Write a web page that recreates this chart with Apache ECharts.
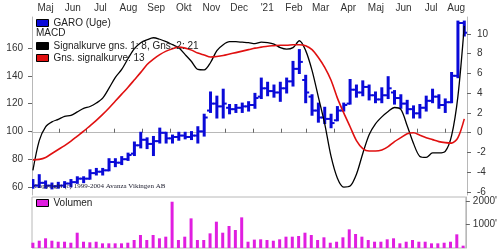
<!DOCTYPE html>
<html><head><meta charset="utf-8">
<script src="https://cdn.jsdelivr.net/npm/echarts@6/dist/echarts.min.js"></script>
<style>html,body{margin:0;padding:0;background:#fff}#c{width:500px;height:251px}</style>
</head><body><div id="c"></div>
<script>
// ---- data (weekly, first week 2020-05-03) ----
const firstWeek = '2020-05-03';
const monthLabels = ["Maj","Jun","Jul","Aug","Sep","Okt","Nov","Dec","'21","Feb","Mar","Apr","Maj","Jun","Jul","Aug"];
const priceOpen  = [63,61,63,61,60.5,61,62.5,63.5,66,66,70,71,72,78,77.5,80,84,90,94,91,93,99,95,96,97,96,97,100,115,120,118,117,116,117,118,119,125,131,129,128,131,136,145,137,125,115,110,109,108,115,120,130,128,132,126,123,126,128,124,120,116,113,117,122,125,119,121,140,178];
const priceClose = [61,63,61,60.5,61,62.5,63.5,66,66,70,71,72,78,77.5,80,83,90,94,91,93,99,95,96,97,96,97,100,110,120,118,120,116,117,118,119,124,131,129,128,131,136,145,150,128,115,110,109,106,115,119,130,128,132,126,123,126,131,124,120,116,113,117,122,125,119,121,140,178,171];
const priceLow   = [59.5,60,59.5,59,59.5,60,60.5,63,63.5,66,69,69,72,75,76.5,79.5,83,88.5,88,83,92,92,92,94,95,94.5,92,97,114,110,110,113,114,114,115,117,124,126,125,122,128,133,142,121,112,107,106,103,108,115,120,125,126,123,121,121,124,120,117,113,110,110,115,121,117,114,121,139,169];
const priceHigh  = [65,68.5,64,62.5,63,63.5,65,67,67,72,73,73,80,80,81.5,84,92,99,95,96,102,99,97,99,99,99.5,103,112,128,125,130,119,119,120,121,127,138,135,133,135,138,150,158.5,140,126,120,117,112,117.5,120,137,133,136,133,128,131,139,129,126,122,118,119,125,130,126,123,142,179,179];
const macdLine   = [-3.8,-0.8,0.6,1.1,1.35,1.65,1.75,2.1,2.45,2.65,3.0,3.5,4.5,5.6,6.4,7.5,8.5,9.1,9.4,9.6,9.45,9.2,8.9,8.6,7.9,7.2,6.4,6.35,7.1,8.3,8.9,9.2,9.2,9.15,9.1,9.0,9.15,9.1,8.95,8.6,8.45,8.6,9.3,8.3,6.3,3.6,0.9,-2.4,-4.6,-5.5,-5.4,-4.2,-2.1,-0.2,0.9,1.6,2.15,2.55,2.35,0.7,-1.1,-2.4,-2.5,-2.05,-2.05,-1.9,-0.3,3.7,10.8];
const signalLine = [-2.75,-2.7,-2.5,-2.1,-1.7,-1.3,-0.85,-0.35,0.15,0.7,1.25,1.85,2.5,3.2,3.9,4.6,5.35,6.1,6.9,7.45,7.9,8.25,8.5,8.65,8.55,8.35,8.05,7.85,7.65,7.7,7.8,7.95,8.1,8.25,8.4,8.55,8.65,8.75,8.8,8.85,8.85,8.9,8.9,8.8,8.4,7.6,6.6,5.3,3.5,2.0,0.6,-0.8,-1.6,-1.85,-1.85,-1.75,-1.4,-0.9,-0.5,-0.1,0.0,-0.25,-0.5,-0.7,-0.9,-1.0,-1.05,-0.5,1.4];
const volume     = [227,313,416,313,270,270,227,657,270,245,270,200,200,200,200,227,343,558,343,558,416,486,1987,343,486,1273,343,343,629,1130,657,944,773,1316,270,360,373,343,313,373,486,486,515,657,558,343,459,227,270,459,801,601,486,343,270,270,373,416,200,270,343,270,270,200,200,227,270,587,100];
const priceTicks = [60,80,100,120,140,160];
const macdTicks  = [-6,-4,-2,0,2,4,6,8,10];
const volTicks   = [1000,2000];
const names = {price:'GARO (Uge)', macd:'Signalkurve gns. 1: 8, Gns. 2: 21', signal:'Gns. signalkurve: 13', vol:'Volumen'};

// ---- helpers ----
const DAY = 86400000;
const origin = Date.UTC(2020,4,1);
const dayOf = ts => (ts - origin) / DAY;
const w0 = dayOf(Date.parse(firstWeek + 'T00:00:00Z'));
const weekX = priceOpen.map((_, i) => w0 + 7 * i);
const xMin = dayOf(Date.UTC(2020,4,2)), xMax = dayOf(Date.UTC(2021,7,25));
const monthStarts = [], monthMids = [], midLabel = {};
for (let k = 0; k < monthLabels.length; k++) {
  const y = 2020 + Math.floor((4 + k) / 12), m = (4 + k) % 12;
  const s = dayOf(Date.UTC(y, m, 1)), e = dayOf(Date.UTC(y, m + 1, 1));
  if (s > xMin) monthStarts.push(s);
  const mid = (Math.max(s, xMin) + Math.min(e, xMax)) / 2;
  monthMids.push(mid); midLabel[mid] = monthLabels[k];
}

const BLUE = '#0a0ad8', RED = '#e01010', MAG = '#e01ee0', AXC = '#b8b8b8', TXT = '#333';
const font = {fontFamily:'Liberation Sans, Arial', fontSize:10, color:TXT};
const lfont = {fontFamily:'Liberation Sans, Arial', fontSize:10, color:'#222'};

function ohlc(params, api) {
  const x = api.value(0);
  const po = api.coord([x, api.value(1)]), pc = api.coord([x, api.value(2)]);
  const pl = api.coord([x, api.value(3)]), ph = api.coord([x, api.value(4)]);
  return {type:'group', children:[
    {type:'line', shape:{x1:pl[0], y1:pl[1]+1, x2:ph[0], y2:ph[1]-1}, style:{stroke:BLUE, lineWidth:3}},
    {type:'line', shape:{x1:po[0]-3.5, y1:po[1], x2:po[0], y2:po[1]}, style:{stroke:BLUE, lineWidth:2}},
    {type:'line', shape:{x1:pc[0], y1:pc[1], x2:pc[0]+3.5, y2:pc[1]}, style:{stroke:BLUE, lineWidth:2}}
  ]};
}

const chart = echarts.init(document.getElementById('c'), null, {renderer:'canvas'});
chart.setOption({
  animation:false,
  backgroundColor:'#fff',
  title:[
    {text:'MACD', left:36, top:28, padding:0, textStyle:{...lfont, fontWeight:'normal'}},
    {text:'Copyright (c) 1999-2004 Avanza Vikingen AB', left:34, top:183, padding:0, textStyle:{fontFamily:'Liberation Serif', fontSize:7, fontWeight:'normal', color:'#223'}}
  ],
  legend:[
    {data:[{name:names.price, icon:'rect'}], left:36, top:17, padding:0, itemWidth:12, itemHeight:7, selectedMode:false, textStyle:{...lfont, lineHeight:12}, itemStyle:{borderColor:'#000', borderWidth:1}},
    {data:[{name:names.macd, icon:'rect'},{name:names.signal, icon:'rect'}], orient:'vertical', left:36, top:40, padding:0, itemGap:0, itemWidth:12, itemHeight:7, selectedMode:false, textStyle:{...lfont, lineHeight:12}, itemStyle:{borderColor:'#000', borderWidth:1}},
    {data:[{name:names.vol, icon:'rect'}], left:36, top:197, padding:0, itemWidth:12, itemHeight:7, selectedMode:false, textStyle:{...lfont, lineHeight:12}, itemStyle:{borderColor:'#000', borderWidth:1}}
  ],
  grid:[
    {left:32, right:33, top:17, bottom:56, show:false},
    {left:32, right:33, top:197, bottom:3, show:true, borderColor:AXC, borderWidth:1}
  ],
  xAxis:[
    {gridIndex:0, type:'value', position:'top', min:xMin, max:xMax,
     axisLine:{show:true, lineStyle:{color:AXC}},
     axisTick:{show:true, customValues:monthStarts, length:4, inside:false, lineStyle:{color:'#666'}},
     axisLabel:{show:true, customValues:monthMids, margin:4, formatter:v => midLabel[v] || '', ...font},
     splitLine:{show:false}},
    {gridIndex:1, type:'value', min:xMin, max:xMax, show:false}
  ],
  yAxis:[
    {gridIndex:0, type:'value', position:'left', min:54.25, max:182.3,
     axisLine:{show:true, lineStyle:{color:AXC}},
     axisTick:{show:true, customValues:priceTicks, length:4, lineStyle:{color:'#666'}},
     axisLabel:{customValues:priceTicks, margin:9, ...font},
     splitLine:{show:false}},
    {gridIndex:0, type:'value', position:'right', min:-6.3, max:11.7,
     axisLine:{show:true, lineStyle:{color:AXC}},
     axisTick:{show:true, customValues:macdTicks, length:4, lineStyle:{color:'#666'}},
     axisLabel:{customValues:macdTicks, margin:10, ...font},
     splitLine:{show:false}},
    {gridIndex:1, type:'value', position:'right', min:0, max:2190,
     axisLine:{show:true, lineStyle:{color:AXC}},
     axisTick:{show:true, customValues:volTicks, length:4, lineStyle:{color:'#666'}},
     axisLabel:{customValues:volTicks, margin:7, formatter:v => v + "'", ...font},
     splitLine:{show:false}}
  ],
  series:[
    {name:names.price, type:'custom', xAxisIndex:0, yAxisIndex:0, renderItem:ohlc,
     itemStyle:{color:BLUE}, encode:{x:0, y:[1,2,3,4]}, clip:true, z:2,
     data:weekX.map((x,i)=>[x, priceOpen[i], priceClose[i], priceLow[i], priceHigh[i]])},
    {name:names.macd, type:'line', xAxisIndex:0, yAxisIndex:1, showSymbol:false, smooth:0.3,
     lineStyle:{color:'#000', width:1.3}, itemStyle:{color:'#000'}, z:3,
     data:weekX.map((x,i)=>[x, macdLine[i]])},
    {name:names.signal, type:'line', xAxisIndex:0, yAxisIndex:1, showSymbol:false, smooth:0.3,
     lineStyle:{color:RED, width:1.6}, itemStyle:{color:RED}, z:3,
     data:weekX.map((x,i)=>[x, signalLine[i]])},
    {name:names.vol, type:'bar', xAxisIndex:1, yAxisIndex:2, barWidth:3,
     itemStyle:{color:MAG}, data:weekX.map((x,i)=>[x, volume[i]])}
  ]
});
</script></body></html>
